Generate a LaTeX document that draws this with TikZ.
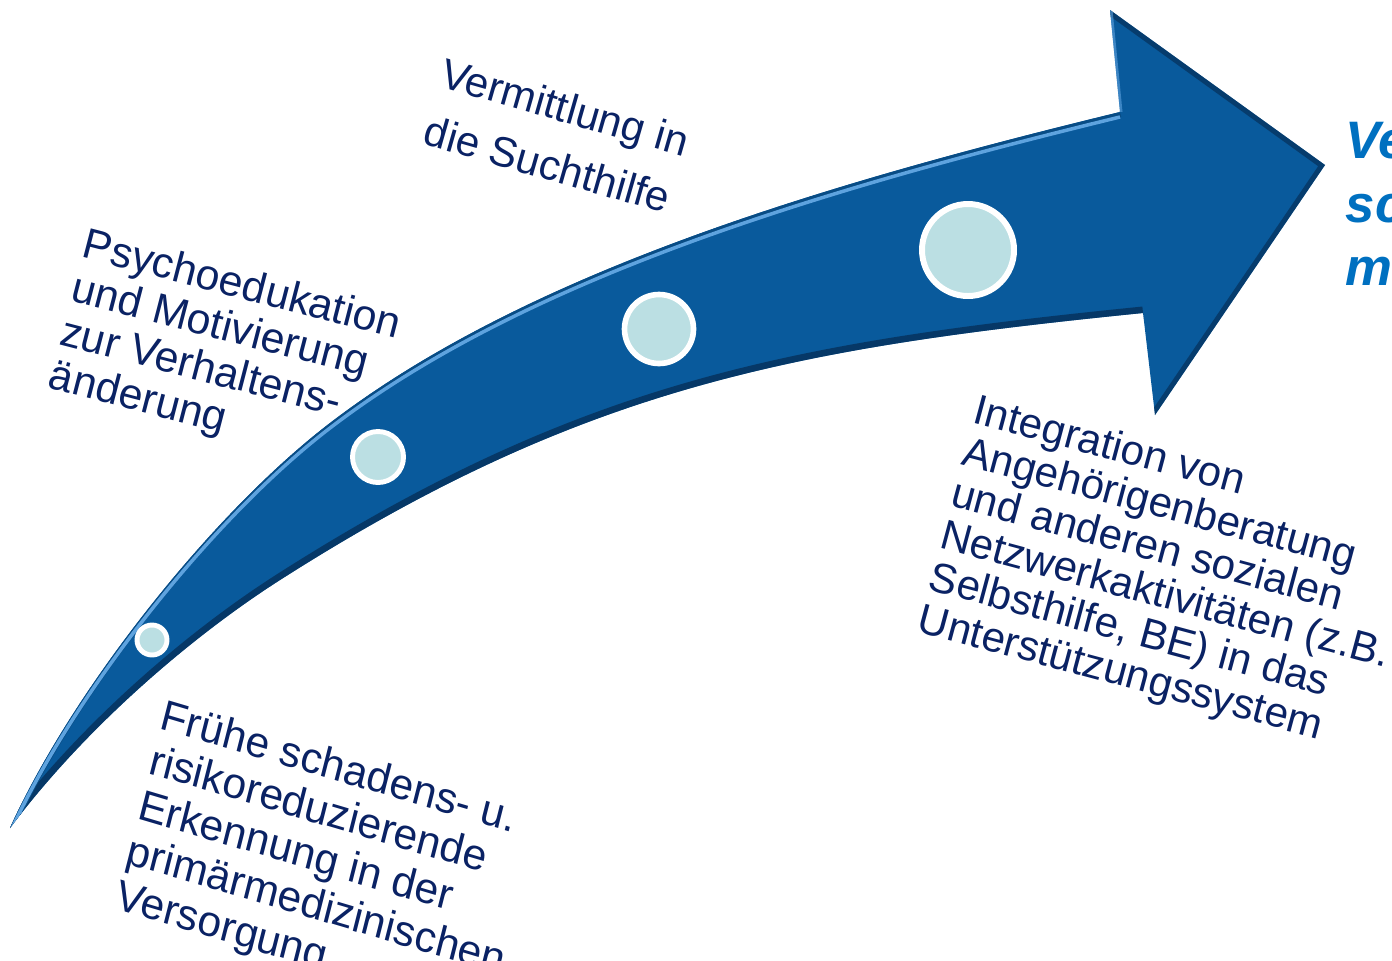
\documentclass[tikz,border=0pt]{standalone}
\usepackage{fontspec}
\setmainfont{Liberation Sans}
\usepackage{tikz}
\usetikzlibrary{positioning}
\definecolor{arrowblue}{HTML}{095A9C}
\definecolor{rimdark}{HTML}{06305A}
\definecolor{rimlight}{HTML}{5EA3DF}
\definecolor{dotfill}{HTML}{BBDFE3}
\definecolor{navytext}{HTML}{0A2264}
\definecolor{goalblue}{HTML}{0070C0}
\tikzset{
  upperedge/.style={insert path={(0.10,1.32) .. controls (0.715,2.685) and (2.11,4.46) .. (3.30,5.37)
      .. controls (5.285,6.89) and (8.28,7.77) .. (11.20,8.48)}},
  loweredge/.style={insert path={(11.43,6.47) .. controls (7.95,6.12) and (5.835,5.737) .. (2.80,3.80)
      .. controls (1.957,3.262) and (0.88,2.36) .. (0.10,1.32)}},
  arrowshape/.style={insert path={(0.10,1.32) .. controls (0.715,2.685) and (2.11,4.46) .. (3.30,5.37)
      .. controls (5.285,6.89) and (8.28,7.77) .. (11.20,8.48)
      -- (11.10,9.50) -- (13.25,7.95) -- (11.55,5.45) -- (11.43,6.47)
      .. controls (7.95,6.12) and (5.835,5.737) .. (2.80,3.80)
      .. controls (1.957,3.262) and (0.88,2.36) .. cycle}},
  stepdot/.style={circle, draw=white, fill=dotfill, line width=1.4pt, inner sep=0pt},
  txt/.style={anchor=north west, inner sep=0pt, align=left, text=navytext},
}

\begin{document}
\begin{tikzpicture}
  \useasboundingbox (0,0) rectangle (13.92,9.60);
  \clip (0,0) rectangle (13.92,9.60);

  % curved arrow with bevelled rims
  \fill[arrowblue, arrowshape];
  \begin{scope}
    \clip[arrowshape];
    \draw[rimdark, line width=0.13cm, opacity=0.8, loweredge];
    \draw[rimdark, line width=0.10cm, opacity=0.7] (11.10,9.50) -- (13.25,7.95) -- (11.55,5.45);
    \draw[arrowblue!85!black, line width=0.10cm, upperedge];
    \draw[rimlight, line width=0.035cm, yshift=-0.05cm, upperedge];
    \draw[rimlight, line width=0.05cm, opacity=0.6] (11.10,9.50) -- (11.20,8.48);
  \end{scope}

  % milestones along the arrow
  \node[stepdot, minimum size=0.30cm] (d1) at (1.52,3.20) {};
  \node[stepdot, minimum size=0.51cm] (d2) at (3.78,5.03) {};
  \node[stepdot, minimum size=0.69cm, line width=1.6pt] (d3) at (6.59,6.31) {};
  \node[stepdot, minimum size=0.92cm, line width=1.7pt] (d4) at (9.68,7.10) {};

  % stage labels
  \node[txt, rotate=-16.5, xslant=-0.04, font=\fontsize{12.2}{13.2}\selectfont] (early) at (1.66,2.63)
    {Frühe schadens- u.\\risikoreduzierende\\Erkennung in der\\primärmedizinischen\\Versorgung};
  \node[txt, rotate=-14.5, font=\fontsize{12.2}{12.8}\selectfont] (psycho) at (0.88,7.34)
    {Psychoedukation\\und Motivierung\\zur Verhaltens-\\änderung};
  \node[txt, rotate=-16, font=\fontsize{12}{17.0}\selectfont] (referral) at (4.46,9.04)
    {Vermittlung in\\die Suchthilfe};
  \node[txt, rotate=-15, font=\fontsize{12}{12.3}\selectfont] (network) at (9.79,5.68)
    {Integration von\\Angehörigenberatung\\und anderen sozialen\\Netzwerkaktivitäten (z.B.\\Selbsthilfe, BE) in das\\Unterstützungssystem};

  \node[anchor=north west, inner sep=0pt, align=left, text=goalblue,
    font=\fontsize{15}{18}\selectfont\bfseries\itshape] (goal) at (13.45,8.38) {Ve\\sc\\m};
\end{tikzpicture}
\end{document}
